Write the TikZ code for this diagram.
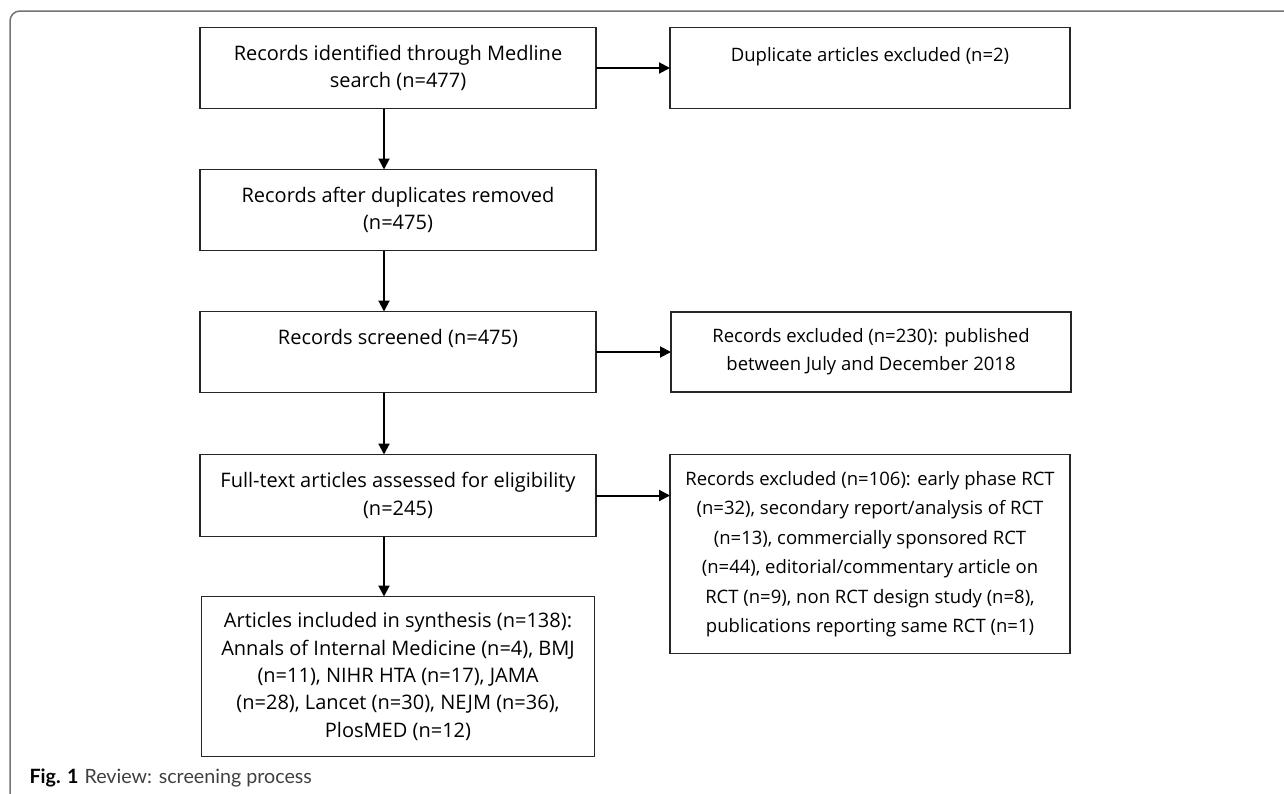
\documentclass[tikz,border=0pt]{standalone}
\usepackage{fontspec}
\setmainfont{Open Sans}
\newfontfamily\capfont{Lato}
\usepackage{tikz}
\usetikzlibrary{positioning, arrows.meta}
\tikzset{
box/.style={draw=black!85, line width=1.2pt, align=center, inner sep=0pt, outer sep=0pt},
mainbox/.style={box, minimum width=396pt, font=\fontsize{20}{27.3}\selectfont},
sidebox/.style={box, minimum width=400pt, font=\fontsize{18.5}{28}\selectfont},
flow/.style={-{Triangle[length=11pt, width=11pt]}, line width=2pt},
frame/.style={draw=black!55, line width=1.5pt, rounded corners=10pt},
figcap/.style={font=\capfont\fontsize{19.7}{24}\selectfont}
}

\begin{document}
\begin{tikzpicture}[x=1pt, y=-1pt]
\useasboundingbox (0,0) rectangle (1284,793);
\draw[frame] (1300,11) -| (10,800);
% main column
\node[mainbox, minimum height=81pt] (rec) at (398,68) {Records identified through Medline\\search (n=477)};
\node[mainbox, minimum height=81pt, below=61pt of rec] (dedup) {Records after duplicates removed\\(n=475)};
\node[mainbox, minimum height=81pt, below=61pt of dedup] (screen) {Records screened (n=475)\\[-6pt]\strut};
\node[mainbox, minimum height=82pt, below=62pt of screen] (full) {Full-text articles assessed for eligibility\\(n=245)};
\node[mainbox, minimum width=393pt, minimum height=160pt, below=60pt of full] (incl) {Articles included in synthesis (n=138):\\Annals of Internal Medicine (n=4), BMJ\\(n=11), NIHR HTA (n=17), JAMA\\(n=28), Lancet (n=30), NEJM (n=36),\\PlosMED (n=12)};
% exclusions
\node[sidebox, minimum height=81pt, right=74pt of rec] (dupl) {Duplicate articles excluded (n=2)\\[-9pt]\strut};
\node[sidebox, minimum height=80pt, right=75pt of screen] (excl) {Records excluded (n=230): published\\between July and December 2018};
\node[sidebox, minimum height=199pt, right=74pt of full.north east, anchor=north west,
  font=\fontsize{18.5}{29.5}\selectfont] (exclft) {Records excluded (n=106): early phase RCT\\(n=32), secondary report/analysis of RCT\\(n=13), commercially sponsored RCT\\(n=44), editorial/commentary article on\\RCT (n=9), non RCT design study (n=8),\\publications reporting same RCT (n=1)};
\node[figcap, anchor=base west] (cap) at (26,783) {\textbf{Fig. 1}\hspace{6pt}{\color{black!75}Review: screening process}};
% ----
\coordinate (spine) at (384,0);
\draw[flow] (rec.south -| spine) -- (dedup.north -| spine);
\draw[flow] (dedup.south -| spine) -- (screen.north -| spine);
\draw[flow] (screen.south -| spine) -- (full.north -| spine);
\draw[flow] (full.south -| spine) -- (incl.north -| spine);

\draw[flow] (rec.east) -- (rec.east -| dupl.west);
\draw[flow] (screen.east) -- (screen.east -| excl.west);
\draw[flow] (full.east) -- (full.east -| exclft.west);
\end{tikzpicture}
\end{document}
